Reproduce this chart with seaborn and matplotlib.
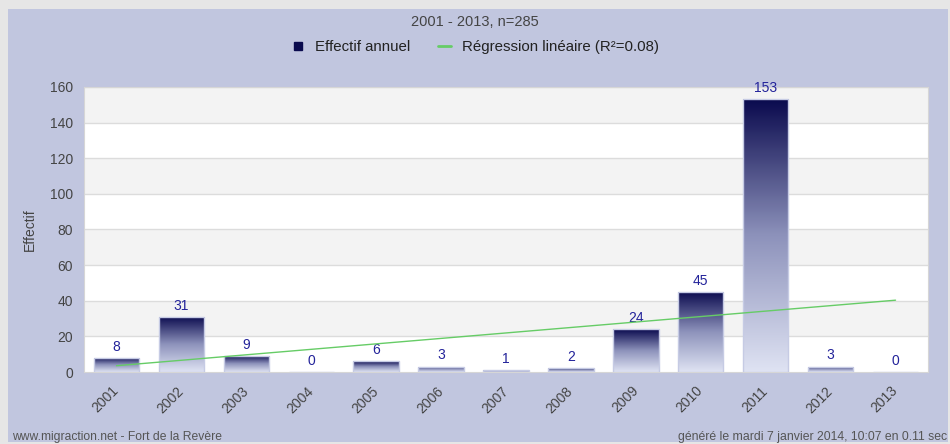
import numpy as np
import pandas as pd
import matplotlib
matplotlib.use("Agg")
import matplotlib.pyplot as plt
from matplotlib.colors import LinearSegmentedColormap
from matplotlib.patches import Rectangle
from matplotlib.lines import Line2D
import seaborn as sns

years = ["2001", "2002", "2003", "2004", "2005", "2006", "2007",
         "2008", "2009", "2010", "2011", "2012", "2013"]
counts = [8, 31, 9, 0, 6, 3, 1, 2, 24, 45, 153, 3, 0]
title = "2001 - 2013, n=285"
legend_bar = "Effectif annuel"
legend_reg = "Régression linéaire (R²=0.08)"

df = pd.DataFrame({"annee": years, "effectif": counts})

sns.set_style("white")
plt.rcParams["font.family"] = ["Liberation Sans", "DejaVu Sans"]

panel = "#c1c6df"
navy = "#0a0a4e"
fig = plt.figure(figsize=(9.5, 4.44), dpi=100, facecolor="#e6e6e6")
fig.patches.append(Rectangle((8 / 950, 2 / 444), 940 / 950, 433 / 444,
                             transform=fig.transFigure, facecolor=panel,
                             edgecolor="none", zorder=-10))

ax = fig.add_axes([84 / 950, 1 - 372 / 444, 844 / 950, 285 / 444])
ax.set_facecolor("white")

sns.barplot(data=df, x="annee", y="effectif", color=navy, width=0.7,
            edgecolor="#c6cbe4", linewidth=1, ax=ax, zorder=3)
bars = list(ax.patches)

# dégradé dans chaque barre
cmap = LinearSegmentedColormap.from_list("grad", ["#dfe3f3", "#8d92bb", navy])
grad = np.linspace(0, 1, 256).reshape(-1, 1)
for p in bars:
    h = p.get_height()
    if h <= 0:
        continue
    x0 = p.get_x()
    im = ax.imshow(grad, extent=[x0, x0 + p.get_width(), 0, h], origin="lower",
                   cmap=cmap, aspect="auto", zorder=3)
    im.set_clip_path(p)
    p.set_facecolor("none")
    p.set_zorder(4)

# bandes alternées + grille
for i, y0 in enumerate(range(0, 160, 20)):
    ax.axhspan(y0, y0 + 20, color="#f3f3f3" if i % 2 else "white", lw=0, zorder=0)
for y0 in range(20, 161, 20):
    ax.axhline(y0, color="#dcdcdc", lw=1, zorder=1)

for i, v in enumerate(counts):
    ax.annotate(str(v), (i, v), xytext=(0, 3), textcoords="offset points",
                ha="center", va="bottom", fontsize=10, color="#23239a", zorder=5)

# régression linéaire
xs = np.arange(len(counts))
slope, inter = np.polyfit(xs, counts, 1)
ax.plot(xs, slope * xs + inter, color="#66cc66", lw=1, zorder=6)

ax.set_xlim(-0.5, len(years) - 0.5)
ax.set_ylim(0, 160)
ax.set_yticks(range(0, 161, 20))
ax.set_xlabel("")
ax.set_ylabel("Effectif", fontsize=10, color="#444444", labelpad=9)
ax.tick_params(axis="both", length=0, labelsize=10, labelcolor="#444444")
ax.tick_params(axis="y", pad=8)
ax.tick_params(axis="x", pad=12)
plt.setp(ax.get_xticklabels(), rotation=45, ha="right", va="center",
         rotation_mode="anchor", fontsize=10)
for s in ax.spines.values():
    s.set_color("#d6d6d6")

fig.text(0.5, 1 - 22 / 444, title, ha="center", va="center",
         fontsize=10.5, color="#444444")
handles = [Line2D([], [], marker="s", ls="none", color=navy, markersize=6),
           Line2D([], [], color="#66cc66", lw=2)]
fig.legend(handles, [legend_bar, legend_reg], loc="center",
           bbox_to_anchor=(0.5, 1 - 47 / 444), ncol=2, frameon=False,
           fontsize=10.8, handlelength=0.9, handletextpad=0.7,
           columnspacing=1.8, labelcolor="#222222")

fig.text(12 / 950, 1 - 437 / 444, "www.migraction.net - Fort de la Revère",
         ha="left", va="center", fontsize=8.7, color="#555555")
fig.text(947 / 950, 1 - 437 / 444,
         "généré le mardi 7 janvier 2014, 10:07 en 0.11 sec",
         ha="right", va="center", fontsize=8.8, color="#555555")

fig.savefig("out.png", dpi=100, facecolor=fig.get_facecolor())
